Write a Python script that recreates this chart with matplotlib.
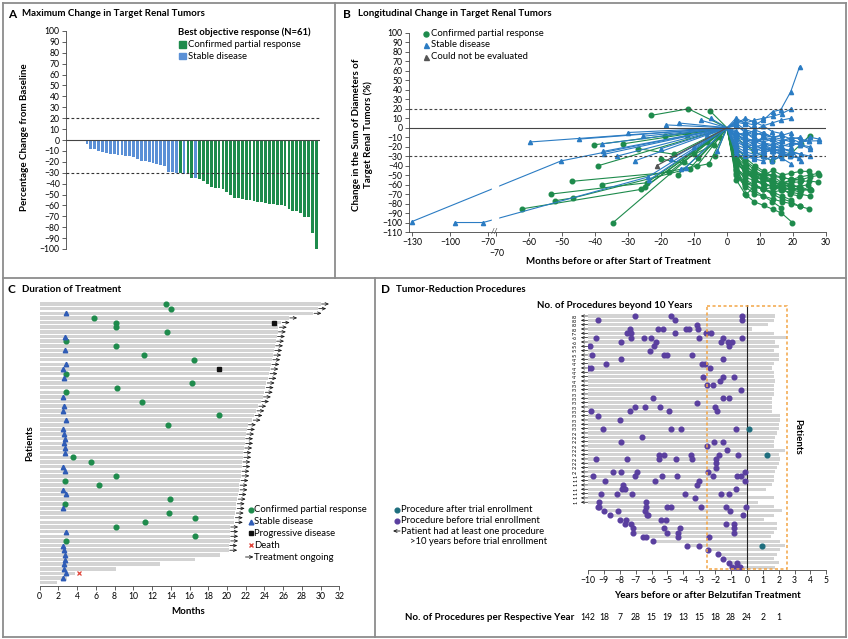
import numpy as np
import matplotlib
matplotlib.use("Agg")
import matplotlib.pyplot as plt
from matplotlib.lines import Line2D
from matplotlib.patches import Rectangle

plt.rcParams['font.family'] = ['Lato', 'DejaVu Sans']

# ---------------- data ----------------
# Panel A: maximum change (%) per patient, sorted
a_change = [-1, -4, -8, -8, -10, -11, -12, -13, -13, -14, -14, -15, -15, -16, -17, -19, -19,
            -20, -21, -22, -23, -24, -29, -29, -30, -30, -31, -31, -35, -35, -36, -38, -40,
            -43, -44, -44, -45, -48, -50, -53, -53, -54, -55, -55, -56, -57, -57, -58, -59,
            -59, -60, -60, -61, -63, -65, -65, -67, -71, -71, -85, -100]
a_response = ['SD'] * 25 + ['PR', 'SD', 'PR', 'PR', 'SD'] + ['PR'] * 31

# Panel B: trajectories (months, % change)
b_pr_months = [
    [-23.1, -11.7, 0, 2.7, 5.5, 8.3, 11, 14, 16.6, 19.4, 22, 25, 27.7],
    [-5.2, 0, 2.8, 5.6, 8.2, 11, 13.8, 16.5, 19.3, 22, 24.8, 27.7],
    [-40.3, 0, 2.7, 5.8, 8.3, 11.1, 13.9, 16.6, 19.4, 22.2, 24.9],
    [-31.5, 0, 2.6, 5.5, 8.1, 11, 13.6, 16.5, 19.2, 22, 25.4],
    [-39, 0, 2.7, 5.5, 8.3, 11, 13.8, 16.6, 19.4, 22.1, 24.8],
    [-46.9, -17.5, 0, 2.8, 5.5, 8.2, 11.1, 13.9, 16.5, 19.8],
    [-53.4, -24.3, 0, 2.7, 5.5, 8.2, 11, 13.7, 16.5],
    [-52.1, -46.6, -11.3, 0, 2.6, 5.5, 8.3, 11, 13.9, 16.6, 19.3],
    [-62.2, -26, 0, 2.8, 5.8, 8.2, 11, 13.8, 16.6, 19.4, 22],
    [-34.5, -13, 0, 3.1, 5.5, 8.3, 10.9, 13.7, 16.5, 19.3],
    [-18.9, 0, 2.7, 5.5, 8.1, 11, 13.6, 16.4, 19.2, 22.3, 25],
    [-38, -5.5, 0, 2.8, 5.6, 8.3, 11.2, 14, 16.8, 19.5, 22.3, 25.2, 28],
    [-8.7, 0, 2.7, 5.4, 8.2, 11, 13.8, 16.5, 19.3, 22.1],
    [-3.5, 0, 2.6, 5.3, 8, 10.8, 13.5, 16.3, 19, 21.8, 24.6],
    [-10, -4, 0, 2.9, 5.7, 8.5, 11.3, 14.1, 16.9, 19.7, 22.5, 25.3],
    [-27, -16, 0, 2.7, 5.5, 8.2, 11, 13.7, 16.6, 19.4, 22.2],
    [-6, 0, 2.8, 5.6, 8.4, 11.2, 14, 16.8, 19.6],
    [-20, -9, 0, 2.7, 5.4, 8.1, 10.9, 13.6, 16.4, 19.1, 21.9],
    [-15, 0, 2.7, 5.5, 8.3, 11.1, 13.8, 16.6, 19.4, 22.2, 25],
    [-2.5, 0, 2.6, 5.4, 8.2, 11, 13.8, 16.6, 19.4, 22.2, 25],
    [-25, 0, 2.8, 5.5, 8.2, 11, 13.7],
    [-12, 0, 2.7, 5.5, 8.3, 11.1, 13.9, 16.7, 19.5, 22.3],
]
b_pr_values = [
    [13, 20, 0, -35, -48, -52, -55, -58, -60, -55, -52, -50, -48],
    [18, 0, -30, -45, -55, -58, -62, -60, -58, -57, -56, -57.5],
    [-18, 0, -25, -40, -48, -50, -45, -50, -48, -46, -46],
    [-17, 0, -45, -58, -62, -65, -68, -66, -64, -65, -66],
    [-40, 0, -50, -62, -70, -72, -75, -78, -80, -83, -85.6],
    [-56.5, -47, 0, -55, -70, -78, -82, -86, -90, -100],
    [-70, -58, 0, -48, -60, -66, -72, -78, -84.5],
    [-77, -74, -43, 0, -40, -55, -60, -64, -68, -72, -76],
    [-85.6, -65, 0, -38, -70.5, -62, -65, -70, -75, -78, -83],
    [-100, -36, 0, -53, -58, -60, -65, -63, -62, -60],
    [-8.4, 0, -10, -18, -25, -30, -35, -30, -28, -17.5, -8.4],
    [-60, -38, 0, -28, -35, -42, -48, -50, -52, -55, -55, -52, -50],
    [-31.6, 0, -32, -45, -50, -55, -56, -62, -65, -68],
    [-30, 0, -42, -50, -48, -52, -55, -58, -60, -62, -60],
    [-28, -18, 0, -36, -48, -55, -60, -62, -64, -65, -66, -65],
    [-22, -28, 0, -30, -40, -47, -52, -57, -60, -63, -65],
    [-15, 0, -20, -32, -40, -46, -52, -58, -55],
    [-33, -40, 0, -33, -42, -50, -53, -58, -64, -70, -72],
    [-50, 0, -45, -52, -56, -60, -62, -66, -68, -70, -72],
    [-10, 0, -38, -45, -52, -55, -58, -60, -62, -62, -66],
    [-63, 0, -25, -35, -45, -50, -55],
    [-8, 0, -34, -44, -48, -50, -51, -53, -54, -55],
]
b_sd_months = [
    [-130, -50.3, 0, 2.7, 5.5, 8.2, 11, 13.8, 16.6, 19.4, 22.2, 25],
    [-96, -74, -24, 0, 2.8, 5.5, 8.3, 11, 13.8, 16.3, 19.3, 22],
    [-59.7, 0, 2.7, 5.5, 8.3, 11, 13.8, 16.6, 19.5],
    [-18.4, 0, 2.6, 5.3, 8.1, 10.9, 13.6, 16.4, 19.3],
    [-14.5, 0, 2.7, 5.5, 8.3, 11.1, 13.9, 16.7, 19.5, 22.3, 24.8, 27.9],
    [-37.8, 0, 2.8, 5.6, 8.4, 11.2, 14, 16.8, 19.6, 22.4],
    [-25.6, 0, 2.7, 5.4, 8.1, 10.8, 13.5, 16.2, 19, 21.8],
    [-37.6, 0, 2.6, 5.4, 8.2, 11, 13.8, 16.6, 19.4],
    [-37.3, 0, 2.7, 5.5, 8.2, 11, 13.7, 16.5, 19.3, 22.1, 24.8],
    [-33.4, 0, 2.8, 5.6, 8.3, 11.1, 13.9, 16.7, 19.5],
    [-14, -12.5, 0, 2.7, 5.5, 8.3, 11, 13.8, 16.6],
    [-23.6, 0, 2.6, 5.4, 8.2, 11, 13.8, 16.6, 19.4, 22.2],
    [-17, 0, 2.7, 5.5, 8.2, 11, 13.8],
    [-20, 0, 2.8, 5.6, 8.4, 11.2, 14, 16.8, 19.6, 22.4, 25.2],
    [-8, 0, 2.7, 5.5, 8.3, 11.1, 13.9, 16.7, 19.5],
    [-5, 0, 2.6, 5.3, 8, 10.8, 13.6, 16.4, 19.2],
    [-30, 0, 2.7, 5.5, 8.3, 11.1, 13.9, 16.7, 19.5, 22.3],
    [-45, 0, 2.8, 5.5, 8.2, 11, 13.7, 16.4],
    [-10, 0, 2.7, 5.5, 8.3, 11, 13.8, 16.6, 19.4],
    [-3, 0, 2.6, 5.4, 8.2, 11, 13.8, 16.6, 19.4, 22.2, 25],
    [-6, 0, 2.7, 5.5, 8.2, 11, 13.7, 16.5],
    [-28, 0, 2.8, 5.6, 8.4, 11.2, 14, 16.8, 19.6, 22.4, 25.2, 28],
]
b_sd_values = [
    [-99, -35, 0, 5, -2, -5, -8, -10, -12, -15, -18, -20],
    [-100, -100, -52, 0, 8, 5, 3, 8, 17, 19, 38, 64.5],
    [-15, 0, 10, 5, 8, 10, 12, 15, 20],
    [3, 0, -5, -8, -3, 2, 5, 8, 10],
    [5, 0, -8, -12, -15, -10, -12, -14, -10, -12, -14, -13.7],
    [-17, 0, -15, -20, -22, -25, -20, -22, -25, -28],
    [-9, 0, -20, -25, -28, -26, -24, -28, -30, -32],
    [-25, 0, -10, -18, -22, -20, -25, -27, -29],
    [-28, 0, 3, -5, -10, -15, -12, -18, -20, -15, -14],
    [-30, 0, -25, -28, -30, -27, -22, -25, -28],
    [-43, -42, 0, -5, -15, -20, -18, -25, -22],
    [-55, 0, 2, -3, -8, -5, -10, -8, -12, -10],
    [-33, 0, -12, -20, -18, -22, -25],
    [-22, 0, -18, -22, -25, -20, -18, -22, -26, -28, -30],
    [8, 0, 6, 4, -2, -6, -10, -8, -5],
    [10, 0, -3, -10, -14, -18, -22, -26, -30],
    [-5, 0, -8, -5, -12, -16, -20, -22, -24, -35],
    [-12, 0, -22, -28, -32, -30, -35, -30],
    [-20, 0, -28, -30, -33, -35, -30, -32, -38],
    [-25, 0, -6, -12, -18, -10, -15, -20, -16, -18, -22],
    [-8, 0, 4, 10, 6, 2, -4, -6],
    [-35, 0, -10, -14, -12, -16, -18, -14, -12, -16, -10, -12],
]
b_ne_months = [[-21.3, 0]]
b_ne_values = [[-40, 0]]

# Panel C: duration of treatment (months), one row per patient, top to bottom
c_end = [30.0, 29.7, 29.2, 26.6, 25.8, 25.5, 25.4, 25.3, 25.2, 25.1, 25.0, 24.9, 24.8, 24.7,
         24.6, 24.5, 24.4, 24.2, 24.1, 24.0, 23.8, 23.6, 23.3, 23.1, 22.9, 22.7, 22.2, 22.1,
         22.0, 21.9, 21.9, 21.8, 21.7, 21.7, 21.6, 21.6, 21.5, 21.5, 21.4, 21.3, 21.3, 21.2,
         21.1, 21.0, 21.0, 20.9, 20.8, 20.8, 20.3, 20.3, 20.3, 20.3, 20.2, 20.2, 19.3, 16.6,
         12.9, 8.1, 3.8, 2.9, 1.9]
c_ongoing = 54
c_pr_rows = [0, 1, 3, 4, 5, 6, 8, 9, 11, 12, 15, 17, 18, 19, 21, 24, 26, 33, 34, 37, 38, 39,
             42, 43, 45, 46, 47, 48, 50, 51]
c_pr_month = [13.5, 14.0, 5.8, 8.2, 8.1, 13.6, 2.8, 8.2, 11.1, 16.5, 2.8, 16.3, 8.3, 2.8,
              10.9, 19.1, 13.7, 3.6, 5.5, 8.2, 2.7, 6.3, 13.9, 2.7, 13.8, 16.6, 11.3, 8.1,
              16.6, 2.8]
c_sd_rows = [2, 7, 10, 13, 14, 16, 20, 22, 23, 25, 27, 28, 29, 30, 31, 32, 35, 36, 40, 41,
             44, 49, 52, 53, 54, 55, 56, 57, 58, 59]
c_sd_month = [2.8, 2.7, 2.7, 2.8, 2.5, 2.6, 2.5, 2.6, 2.5, 2.8, 2.5, 2.6, 2.7, 2.6, 2.7, 2.7,
              2.5, 2.7, 2.5, 2.8, 2.5, 2.8, 2.5, 2.6, 2.7, 2.7, 2.6, 2.6, 2.8, 2.5]
c_pd_rows = [4, 14]
c_pd_month = [25.0, 19.1]
c_death_rows = [58]
c_death_month = [4.2]

# Panel D: procedures (years relative to belzutifan start), one row per patient
d_beyond = [8, 8, 8, 8, 7, 6, 6, 5, 5, 5, 4, 4, 4, 4, 4, 4, 3, 3, 3, 3, 3, 3, 3, 3, 3, 3, 3,
            2, 2, 2, 2, 2, 2, 2, 2, 2, 2, 1, 1, 1, 1, 1, 1, 1]
d_end = [1.8, 1.7, 1.3, 0.3, 1.7, 2.5, 1.8, 2.0, 1.7, 2.0, 2.0, 1.7, 1.6, 1.7, 1.7, 1.8, 1.7,
         1.7, 1.7, 1.6, 1.6, 1.6, 1.6, 2.1, 2.1, 2.0, 2.0, 1.9, 1.8, 1.7, 1.7, 2.4, 2.0, 2.1,
         2.0, 1.9, 1.8, 1.7, 1.7, 1.6, 1.2, 0.1, 1.7, 0.7, 1.7, 2.2, 1.7, 1.1, 1.9, 1.9, 1.7,
         1.5, 2.1, 2.4, 2.1, 1.9, 1.7, 2.0, 1.8]
d_before = [
    [-7.06, -4.8, -0.33], [-9.4, -4.5, -0.3], [-3.16],
    [-7.35, -5.57, -5.3, -3.8, -3.64, -3.1], [-7.57, -7.3, -4.5, -2.6, -2.28],
    [-9.5, -7.27, -6.47, -6.06, -3.0, -1.48, -0.33], [-7.94, -5.7, -1.65, -1.19, -0.92],
    [-9.87, -5.85, -1.13], [-6.12], [-9.77, -5.2, -5.05, -3.43], [-7.9, -1.5],
    [-8.89, -2.8, -2.66], [-10.0, -9.79, -2.32], [], [-2.78, -1.5, -0.81], [-1.69],
    [-2.49, -2.11], [-0.39], [], [-5.93, -1.5, -1.13], [-3.16],
    [-7.06, -6.43, -5.46, -2.03], [-9.79, -7.35, -4.88, -1.9], [-9.37], [-8.0], [],
    [-9.03, -4.75, -4.16, -0.66], [], [-6.62], [-7.9, -2.07, -1.5], [-2.49], [-1.27],
    [-5.5, -5.2, -3.53, -1.73, -0.56], [-9.49, -7.52, -5.5, -4.49, -3.43, -1.96], [-1.96],
    [-1.96], [-8.44, -7.94, -6.93, -2.47, -0.14],
    [-9.68, -7.06, -5.36, -4.41, -2.11, -0.6, -0.39], [-8.94, -5.78, -3.0, -0.14],
    [-7.79, -3.16], [-7.87, -7.67, -0.71], [-9.2, -8.2, -7.21, -3.9, -1.65, -1.13],
    [-3.27], [-9.3, -6.37],
    [-9.4, -9.28, -6.37, -5.0, -4.75, -2.91, -1.34, -0.08], [-8.99, -8.11, -6.43, -1.07],
    [-8.63, -6.3, -6.22, -0.25], [-7.98, -7.58, -5.42, -5.11], [-7.65, -7.3, -1.34, -0.81],
    [-7.15, -5.2, -4.2, -0.81], [-7.15, -5.0, -4.31, -0.81], [-6.52, -6.37, -4.31, -2.38],
    [-5.93], [-3.79, -3.0], [-2.45], [-1.82], [-1.5], [-1.13, -0.6], [-0.92, -0.6, -0.45],
]
d_after_rows = [26, 32, 53]
d_after_year = [0.13, 1.24, 0.97]
d_year_ticks = [-10, -9, -8, -7, -6, -5, -4, -3, -2, -1, 0, 1, 2]
d_year_counts = [142, 18, 7, 28, 15, 19, 13, 15, 18, 28, 24, 2, 1]

# ---------------- styling ----------------
GREEN = '#1e8b4c'
BLUE_A = '#5b90d6'
BLUE_B = '#2b7cc3'
BLUE_C = '#2f5cb6'
PURPLE = '#5a3f9f'
TEAL = '#1e6e7e'
BAR_GRAY = '#d3d3d3'
FRAME = '#8c8c8c'
TICK = 6.2
LEG = 6.8
LAB = 7
ARROW = '->,head_length=0.22,head_width=0.1'

W, H = 848, 639
fig = plt.figure(figsize=(W / 100, H / 100), dpi=100)


def add_ax(l, t, r, b):
    return fig.add_axes([l / W, 1 - b / H, (r - l) / W, (b - t) / H])


def ftext(x, y, s, **kw):
    fig.text(x / W, 1 - y / H, s, **kw)


def fmark(x, y, marker, color, ms):
    fig.add_artist(Line2D([x / W], [1 - y / H], marker=marker, color=color, ms=ms,
                          ls='none', transform=fig.transFigure))


def fline(x0, y0, x1, y1, **kw):
    fig.add_artist(Line2D([x0 / W, x1 / W], [1 - y0 / H, 1 - y1 / H],
                          transform=fig.transFigure, **kw))


def farrow(x0, y0, x1, y1):
    fig.add_artist(matplotlib.patches.FancyArrowPatch(
        (x0 / W, 1 - y0 / H), (x1 / W, 1 - y1 / H), transform=fig.transFigure,
        arrowstyle=ARROW, lw=0.6, color='#111', mutation_scale=10, shrinkA=0, shrinkB=0))


def style_ticks(ax):
    ax.tick_params(labelsize=TICK, length=3, width=0.6, pad=1.5, color='#444')


# ---------------- panel A ----------------
axA = add_ax(66, 31, 320, 249)
xa = np.arange(len(a_change))
axA.bar(xa, a_change, width=0.72,
        color=[GREEN if r == 'PR' else BLUE_A for r in a_response], zorder=2)
axA.axhline(0, color='#444', lw=0.8, zorder=3)
for yv in (20, -30):
    axA.axhline(yv, color='#333', lw=0.8, ls=(0, (2.5, 2)), zorder=4)
axA.set_xlim(-4.4, 61)
axA.set_ylim(-100, 100)
axA.set_yticks(range(-100, 101, 10))
axA.set_xticks([])
for s in ('top', 'right', 'bottom'):
    axA.spines[s].set_visible(False)
axA.spines['left'].set_linewidth(0.6)
axA.spines['left'].set_color('#444')
style_ticks(axA)

ftext(178, 32, 'Best objective response (N=61)', fontsize=LEG, weight='bold', va='center')
for k, (lab, col) in enumerate([('Confirmed partial response', GREEN), ('Stable disease', BLUE_A)]):
    fig.add_artist(Rectangle((179 / W, 1 - (47.5 + 11.7 * k) / H), 6.5 / W, 6.5 / H,
                             color=col, transform=fig.transFigure))
    ftext(188.5, 44.5 + 11.7 * k, lab, fontsize=LEG, va='center')


# ---------------- panel B ----------------
def fwd(m):
    m = np.asarray(m, dtype=float)
    return np.where(m >= -70, m, -72.4 + (m + 70) * 0.385)


def inv(u):
    u = np.asarray(u, dtype=float)
    return np.where(u >= -70, u, np.where(u < -72.4, (u + 72.4) / 0.385 - 70, -70.0))


axB = add_ax(409, 33, 826, 232)
axB.set_xscale('function', functions=(fwd, inv))
axB.set_xlim(-132.3, 30)
axB.set_ylim(-110, 100)
axB.axhline(0, color='#444', lw=0.8, zorder=2.6)
for yv in (20, -30):
    axB.axhline(yv, color='#444', lw=0.8, ls=(0, (2.5, 2)), zorder=2.6)


def draw_traj(ax, months, values, color, marker, ms):
    for m, v in zip(months, values):
        keep = [i for i, mm in enumerate(m) if mm != 0]
        ax.plot(m, v, color=color, lw=0.8, marker=marker, ms=ms, markevery=keep, zorder=2)


draw_traj(axB, b_pr_months, b_pr_values, GREEN, 'o', 3.3)
draw_traj(axB, b_sd_months, b_sd_values, BLUE_B, '^', 3.0)
draw_traj(axB, b_ne_months, b_ne_values, '#555555', '^', 3.0)
axB.add_patch(Rectangle((0.198, 0.004), 0.016, 0.996, transform=axB.transAxes,
                        color='white', zorder=2.5))
b_ticks = [-130, -100, -70.0001, -70] + list(range(-60, 31, 10))
axB.set_xticks(b_ticks)
axB.set_xticklabels(['\u2212130', '\u2212100', '\u221270', ''] +
                    [str(t).replace('-', '\u2212') for t in range(-60, 31, 10)])
axB.text(-69.7, -0.085, '\u221270', transform=axB.get_xaxis_transform(), ha='center',
         va='top', fontsize=TICK)
axB.text(0.205, 0.0, '//', transform=axB.transAxes, ha='center', va='center',
         fontsize=6, color='#444')
axB.set_yticks(range(-110, 101, 10))
axB.xaxis.set_minor_locator(matplotlib.ticker.NullLocator())
for s in ('top', 'right'):
    axB.spines[s].set_visible(False)
for s in ('left', 'bottom'):
    axB.spines[s].set_linewidth(0.6)
    axB.spines[s].set_color('#444')
style_ticks(axB)

for k, (lab, col, mk) in enumerate([('Confirmed partial response', GREEN, 'o'),
                                    ('Stable disease', BLUE_B, '^'),
                                    ('Could not be evaluated', '#555555', '^')]):
    fmark(425.5, 33.5 + 11.7 * k, mk, col, 3.6)
    ftext(431, 33 + 11.7 * k, lab, fontsize=LEG, va='center')

# ---------------- panel C ----------------
axC = add_ax(39.7, 300, 339.3, 586)
rows = np.arange(len(c_end))
axC.barh(rows, c_end, height=0.75, color=BAR_GRAY, zorder=1)
axC.plot(c_pr_month, c_pr_rows, 'o', color=GREEN, ms=3.4, zorder=3)
axC.plot(c_sd_month, c_sd_rows, '^', color=BLUE_C, ms=3.2, zorder=3)
axC.plot(c_pd_month, c_pd_rows, 's', color='#111111', ms=3.4, zorder=3)
axC.plot(c_death_month, c_death_rows, 'x', color='#e0453a', ms=3.4, mew=0.9, zorder=3)
for r in range(c_ongoing):
    axC.annotate('', xy=(c_end[r] + 0.9, r), xytext=(c_end[r] + 0.1, r),
                 arrowprops=dict(arrowstyle=ARROW, lw=0.55, color='#111',
                                 shrinkA=0, shrinkB=0, mutation_scale=10),
                 annotation_clip=False)
axC.set_xlim(0, 32)
axC.set_ylim(60.7, -0.86)
axC.set_xticks(range(0, 33, 2))
axC.set_yticks([])
for s in ('top', 'right', 'left'):
    axC.spines[s].set_visible(False)
axC.spines['bottom'].set_linewidth(0.6)
axC.spines['bottom'].set_color('#444')
style_ticks(axC)

c_leg = [('Confirmed partial response', 'o', GREEN), ('Stable disease', '^', BLUE_C),
         ('Progressive disease', 's', '#111111'), ('Death', 'x', '#e0453a')]
for k, (lab, mk, col) in enumerate(c_leg):
    fmark(250.5, 510 + 11.7 * k, mk, col, 3.4)
    ftext(254.5, 510 + 11.7 * k, lab, fontsize=LEG, va='center')
farrow(245.5, 557, 253.5, 557)
ftext(254.5, 557, 'Treatment ongoing', fontsize=LEG, va='center')

# ---------------- panel D ----------------
axD = add_ax(588, 305, 826.3, 570)
n_arrow = len(d_beyond)
d_start = [-10.0 if r < n_arrow else min(d_before[r]) for r in range(len(d_end))]
d_rows = np.arange(len(d_end))
axD.barh(d_rows, np.array(d_end) - np.array(d_start), left=d_start, height=0.72,
         color=BAR_GRAY, zorder=1)
for r, yrs in enumerate(d_before):
    axD.plot(yrs, [r] * len(yrs), 'o', color=PURPLE, ms=3.4, zorder=3)
axD.plot(d_after_year, d_after_rows, 'o', color=TEAL, ms=3.4, zorder=3)
axD.axvline(0, color='#222', lw=0.8, zorder=2)
axD.add_patch(Rectangle((-2.5, -2.4), 5, 60.8, fill=False, ec='#f3a546', lw=1.1,
                        ls=(0, (2, 1.6)), zorder=4))
for r, n in enumerate(d_beyond):
    axD.annotate('', xy=(-10.45, r), xytext=(-10.02, r),
                 arrowprops=dict(arrowstyle=ARROW, lw=0.5, color='#111',
                                 shrinkA=0, shrinkB=0, mutation_scale=9),
                 annotation_clip=False)
    axD.text(-10.78, r, str(n), rotation=90, fontsize=4, ha='center', va='center',
             clip_on=False)
axD.set_xlim(-10, 5)
axD.set_ylim(58.64, -2.54)
axD.set_xticks(range(-10, 6))
axD.set_xticklabels([str(t).replace('-', '\u2212') for t in range(-10, 6)])
axD.set_yticks([])
for s in ('top', 'right', 'left'):
    axD.spines[s].set_visible(False)
axD.spines['bottom'].set_linewidth(0.6)
axD.spines['bottom'].set_color('#444')
style_ticks(axD)

for yr, n in zip(d_year_ticks, d_year_counts):
    ftext(588 + (yr + 10) * 15.887, 617, str(n), fontsize=TICK, ha='center', va='center')
ftext(405, 617, 'No. of Procedures per Respective Year', fontsize=LAB, weight='bold',
      va='center')
ftext(614.5, 305.5, 'No. of Procedures beyond 10 Years', fontsize=LAB, weight='bold',
      ha='center', va='center')
ftext(798, 437, 'Patients', fontsize=LAB, weight='bold', rotation=-90, ha='center',
      va='center')
ftext(707, 595, 'Years before or after Belzutifan Treatment', fontsize=LAB, weight='bold',
      ha='center', va='center')

fmark(397, 510, 'o', TEAL, 3.4)
ftext(401, 510, 'Procedure after trial enrollment', fontsize=LEG, va='center')
fmark(397, 520.5, 'o', PURPLE, 3.4)
ftext(401, 520.5, 'Procedure before trial enrollment', fontsize=LEG, va='center')
farrow(400, 531, 393, 531)
ftext(401, 531, 'Patient had at least one procedure', fontsize=LEG, va='center')
ftext(410, 541.5, '>10 years before trial enrollment', fontsize=LEG, va='center')

# ---------------- titles, labels, frames ----------------
for x, y, letter, title in [(8, 14, 'A', 'Maximum Change in Target Renal Tumors'),
                            (343, 14, 'B', 'Longitudinal Change in Target Renal Tumors'),
                            (8, 289.5, 'C', 'Duration of Treatment'),
                            (381, 289.5, 'D', 'Tumor-Reduction Procedures')]:
    ftext(x, y, letter, fontsize=8.5, weight='bold', va='center')
    ftext(x + 14.5, y, title, fontsize=LAB, weight='bold', va='center')

ftext(25, 137, 'Percentage Change from Baseline', fontsize=LAB, weight='bold',
      rotation=90, ha='center', va='center')
ftext(362.5, 135, 'Change in the Sum of Diameters of\nTarget Renal Tumors (%)',
      fontsize=LAB, weight='bold', rotation=90, ha='center', va='center',
      multialignment='center', linespacing=1.25)
ftext(618, 261, 'Months before or after Start of Treatment', fontsize=LAB, weight='bold',
      ha='center', va='center')
ftext(30, 443, 'Patients', fontsize=LAB, weight='bold', rotation=90, ha='center',
      va='center')
ftext(187.7, 611.5, 'Months', fontsize=LAB, weight='bold', ha='center', va='center')

fkw = dict(color=FRAME, lw=1.3)
fline(2.5, 2.5, 845.5, 2.5, **fkw)
fline(2.5, 636.5, 845.5, 636.5, **fkw)
fline(2.5, 2.5, 2.5, 636.5, **fkw)
fline(845.5, 2.5, 845.5, 636.5, **fkw)
fline(2.5, 278, 845.5, 278, **fkw)
fline(335, 2.5, 335, 278, **fkw)
fline(374.5, 278, 374.5, 636.5, **fkw)

fig.savefig('out.png', dpi=100)
